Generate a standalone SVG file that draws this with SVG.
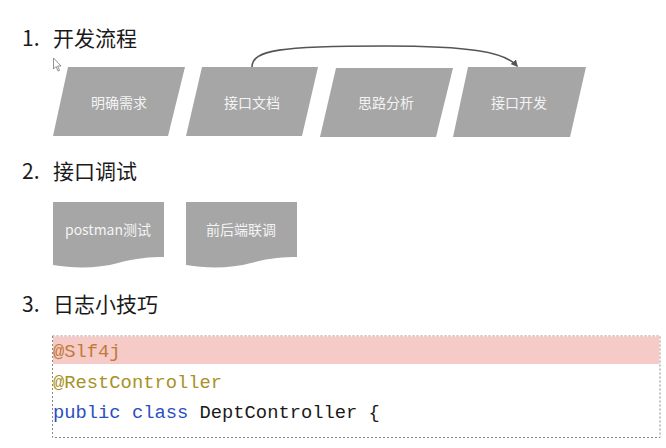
<svg xmlns="http://www.w3.org/2000/svg" width="666" height="448" viewBox="0 0 666 448">
<defs>
<style>
.h{font-family:"Noto Sans CJK SC","Noto Sans",sans-serif;font-size:21px;fill:#1a1a1a}
.shape{fill:#a6a6a6}
.lbl{font-family:"Noto Sans CJK SC","Noto Sans",sans-serif;font-size:14px;fill:#f4f4f4;text-anchor:middle;dominant-baseline:central}
.code{font-family:"Liberation Mono","Courier New",monospace;font-size:18.8px}
.conn{fill:none;stroke:#555;stroke-width:1.6}
</style>
<marker id="arr" viewBox="0 0 10 10" refX="8" refY="5" markerWidth="7" markerHeight="7" orient="auto" markerUnits="userSpaceOnUse">
<path d="M0,0 L10,5 L0,10 Z" fill="#555"/>
</marker>
</defs>
<rect width="666" height="448" fill="#fff"/>

<text class="h" x="22" y="46">1.<tspan x="53">开发流程</tspan></text>
<text class="h" x="22" y="179">2.<tspan x="53">接口调试</tspan></text>
<text class="h" x="22" y="312">3.<tspan x="53">日志小技巧</tspan></text>

<path d="M53.5,58 V69 L56,66.5 L58,71 L59.5,70.3 L57.6,66 H61 Z" fill="#fff" stroke="#777" stroke-width="0.8"/>

<g id="connectors">
<path class="conn" d="M252,67 C252,50 280,46 385,46 C470,46 505,52 517,66" marker-end="url(#arr)"/>
</g>

<g id="n1"><path class="shape" d="M68,67 H185 L168,136 H53 Z"/><text class="lbl" x="119" y="102">明确需求</text></g>
<g id="n2"><path class="shape" d="M202,67 H318 L302,136 H186 Z"/><text class="lbl" x="252" y="102">接口文档</text></g>
<g id="n3"><path class="shape" d="M336,68 H453 L436,137 H320 Z"/><text class="lbl" x="386" y="102">思路分析</text></g>
<g id="n4"><path class="shape" d="M468,67 H586 L570,137 H453 Z"/><text class="lbl" x="519" y="102">接口开发</text></g>

<g id="d1"><path class="shape" d="M53,202 H164 V257 C150,257 136,258 118,263 C100,268 76,269 53,265 Z"/><text class="lbl" x="108" y="229">postman测试</text></g>
<g id="d2"><path class="shape" d="M186,202 H297 V257 C283,257 269,258 251,263 C233,268 209,269 186,265 Z"/><text class="lbl" x="241" y="229">前后端联调</text></g>

<g id="code">
<rect x="52.5" y="336" width="607.5" height="101.5" fill="#fff" stroke="#888" stroke-width="1" stroke-dasharray="2,2"/>
<rect x="53" y="336.5" width="606.5" height="27.5" fill="#f6cac6"/>
<text class="code" x="53" y="357" fill="#c07a38">@Slf4j</text>
<text class="code" x="53" y="388" fill="#a89225">@RestController</text>
<text class="code" x="53" y="418"><tspan fill="#2a4fc2">public class</tspan><tspan fill="#1a1a1a"> DeptController {</tspan></text>
</g>
</svg>
